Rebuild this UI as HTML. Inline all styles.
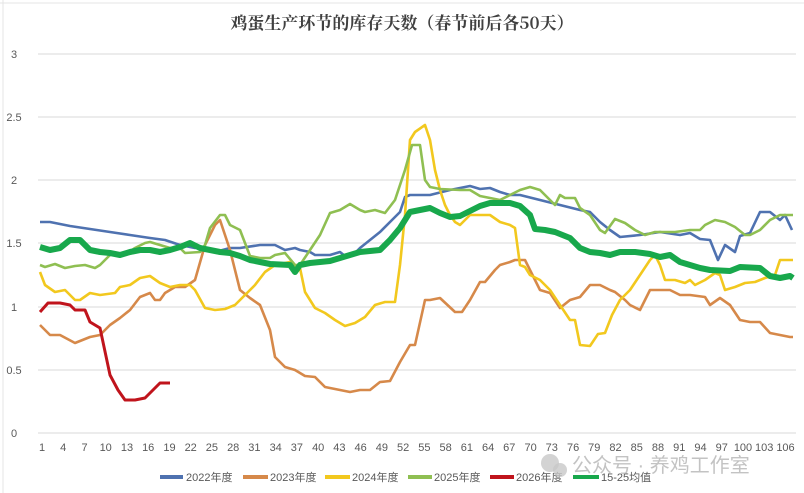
<!DOCTYPE html>
<html><head><meta charset="utf-8"><style>
body{margin:0;width:804px;height:493px;background:#fff;overflow:hidden}
svg{display:block;font-family:"Liberation Sans","Noto Sans CJK SC",sans-serif}
</style></head><body>
<svg width="804" height="493" viewBox="0 0 804 493">
<line x1="0" y1="3" x2="804" y2="3" stroke="#e4e4e4"/>
<line x1="3" y1="0" x2="3" y2="493" stroke="#e4e4e4"/>
<text x="402" y="29" text-anchor="middle" font-family="'Noto Serif CJK SC',serif" font-weight="bold" font-size="17" fill="#404040">鸡蛋生产环节的库存天数（春节前后各50天）</text>
<g stroke="#d9d9d9" stroke-width="1">
<line x1="38" y1="54" x2="796" y2="54"/><line x1="38" y1="117" x2="796" y2="117"/><line x1="38" y1="180" x2="796" y2="180"/><line x1="38" y1="243" x2="796" y2="243"/><line x1="38" y1="307" x2="796" y2="307"/><line x1="38" y1="370" x2="796" y2="370"/><line x1="38" y1="433" x2="796" y2="433"/>
</g>
<g font-size="11" fill="#595959" text-anchor="middle">
<text x="14" y="58">3</text><text x="14" y="121">2.5</text><text x="14" y="184">2</text><text x="14" y="247">1.5</text><text x="14" y="311">1</text><text x="14" y="374">0.5</text><text x="14" y="437">0</text>
</g>
<g font-size="11" fill="#595959" text-anchor="middle" id="xt"></g>
<g fill="none" stroke-linejoin="round" stroke-width="2.6">
<polyline stroke="#4f72b0" points="40,222 50,222 70,226 90,229 110,232 130,235 150,238 165,240 180,245 195,248 200,246 205,250 215,252 230,248 240,248 260,245 275,245 285,250 295,248 300,250 310,252 315,255 330,255 340,252 345,256 355,253 360,248 370,240 380,232 390,222 400,212 405,197 410,195 430,195 450,190 460,188 470,186 480,189 490,188 500,192 510,195 520,195 540,200 560,205 580,210 590,212 600,222 610,230 620,237 640,235 660,232 680,235 690,233 700,239 710,240 718,260 725,245 735,252 740,236 750,233 760,212 770,212 780,220 785,215 792,230"/>
<polyline stroke="#d6894a" points="40,325 50,335 60,335 75,343 90,337 100,335 110,325 120,318 130,310 140,297 150,293 155,300 160,300 165,293 175,287 185,287 195,280 205,245 215,225 220,220 230,250 240,290 250,298 260,305 270,330 275,357 285,367 295,370 305,376 315,377 325,387 340,390 350,392 360,390 370,390 380,382 390,381 400,362 410,345 415,345 425,300 430,300 440,298 455,312 462,312 470,300 480,282 485,282 495,270 500,265 510,262 515,260 525,260 540,290 550,293 560,308 570,300 580,297 590,285 600,285 610,290 615,292 625,300 630,305 640,310 650,290 660,290 670,290 680,295 690,295 705,297 710,305 720,298 730,305 740,320 750,322 760,322 770,333 780,335 790,337 793,337"/>
<polyline stroke="#f2c81e" points="40,272 45,285 55,292 65,290 75,300 80,300 90,293 100,295 115,293 120,287 130,285 140,278 150,276 160,283 170,287 180,285 190,285 195,290 205,308 215,310 225,309 235,305 245,295 255,285 265,272 275,265 290,262 300,268 305,292 315,308 325,313 335,320 345,326 355,323 365,317 375,305 385,302 395,302 400,265 405,215 410,140 415,132 425,125 430,140 435,170 440,190 445,205 450,215 455,222 460,225 470,215 490,215 500,222 510,225 515,228 520,265 525,267 530,275 540,280 550,290 560,305 570,320 575,320 580,345 590,346 598,334 605,333 612,315 620,300 630,290 640,275 650,260 655,255 660,265 665,280 675,280 685,283 690,280 695,285 705,280 715,273 720,275 725,290 735,287 745,283 755,282 765,278 775,275 780,260 793,260"/>
<polyline stroke="#8fbf52" points="40,265 45,267 55,264 65,268 75,266 85,265 95,268 100,265 110,255 115,253 125,255 135,248 145,243 150,242 160,245 170,248 180,248 185,253 200,252 205,245 210,228 220,215 225,215 230,225 240,230 250,256 260,258 270,258 275,255 285,253 295,265 300,265 310,250 320,235 330,213 340,210 350,204 360,210 365,212 375,210 385,213 395,200 405,170 412,145 420,145 425,180 430,187 440,189 460,190 470,190 480,196 490,198 500,200 510,195 520,190 530,187 540,190 550,200 555,205 560,195 565,198 575,198 580,208 590,215 600,230 605,233 615,219 625,223 635,230 645,235 655,232 675,232 690,230 700,230 705,225 715,220 725,222 735,227 745,235 750,235 760,230 770,220 780,215 793,215"/>
<polyline stroke="#c0141c" stroke-width="3" points="40,312 48,303 60,303 70,305 75,310 85,310 90,322 100,328 110,375 118,390 125,400 135,400 145,398 155,388 160,383 170,383"/>
<polyline stroke="#18a84c" stroke-width="6" points="40,247 50,250 60,248 70,240 80,240 90,250 100,252 110,253 120,255 130,252 140,250 150,250 160,252 170,250 180,247 190,243 200,248 210,250 220,252 230,253 240,256 250,260 260,262 270,264 290,265 295,272 300,265 310,263 330,261 340,258 350,255 360,252 380,250 390,240 400,228 410,212 420,210 430,208 440,213 450,217 460,216 470,211 480,206 490,203 510,203 520,206 530,215 535,229 545,230 555,232 570,238 580,248 590,252 600,253 610,255 620,252 635,252 650,254 660,257 670,255 680,262 690,265 700,268 710,270 730,271 740,267 760,268 770,276 780,278 790,276 793,278"/>
</g>
<g font-size="11" fill="#595959">
<line x1="160" y1="477" x2="183" y2="477" stroke="#4f72b0" stroke-width="4"/><text x="186" y="481">2022年度</text>
<line x1="243" y1="477" x2="268" y2="477" stroke="#d6894a" stroke-width="4"/><text x="270" y="481">2023年度</text>
<line x1="325" y1="477" x2="350" y2="477" stroke="#f2c81e" stroke-width="4"/><text x="352" y="481">2024年度</text>
<line x1="408" y1="477" x2="432" y2="477" stroke="#8fbf52" stroke-width="4"/><text x="434" y="481">2025年度</text>
<line x1="490" y1="477" x2="514" y2="477" stroke="#c0141c" stroke-width="4"/><text x="516" y="481">2026年度</text>
<line x1="573" y1="477" x2="599" y2="477" stroke="#18a84c" stroke-width="4"/><text x="601" y="481">15-25均值</text>
</g>
<circle cx="550" cy="463" r="9" fill="#c8c8c8" opacity="0.8"/><circle cx="560" cy="470" r="7" fill="#c8c8c8" opacity="0.8"/>
<text x="572" y="472" font-size="20" fill="#bdbdbd" opacity="0.9">公众号 · 养鸡工作室</text>
</svg>
<script>
var g=document.getElementById('xt'),s='';
for(var i=1;i<=106;i+=3){var x=42+(i-1)*751/105*0.99;s+='<text x="'+x.toFixed(1)+'" y="451">'+i+'</text>';}
g.innerHTML=s;
</script>
</body></html>
